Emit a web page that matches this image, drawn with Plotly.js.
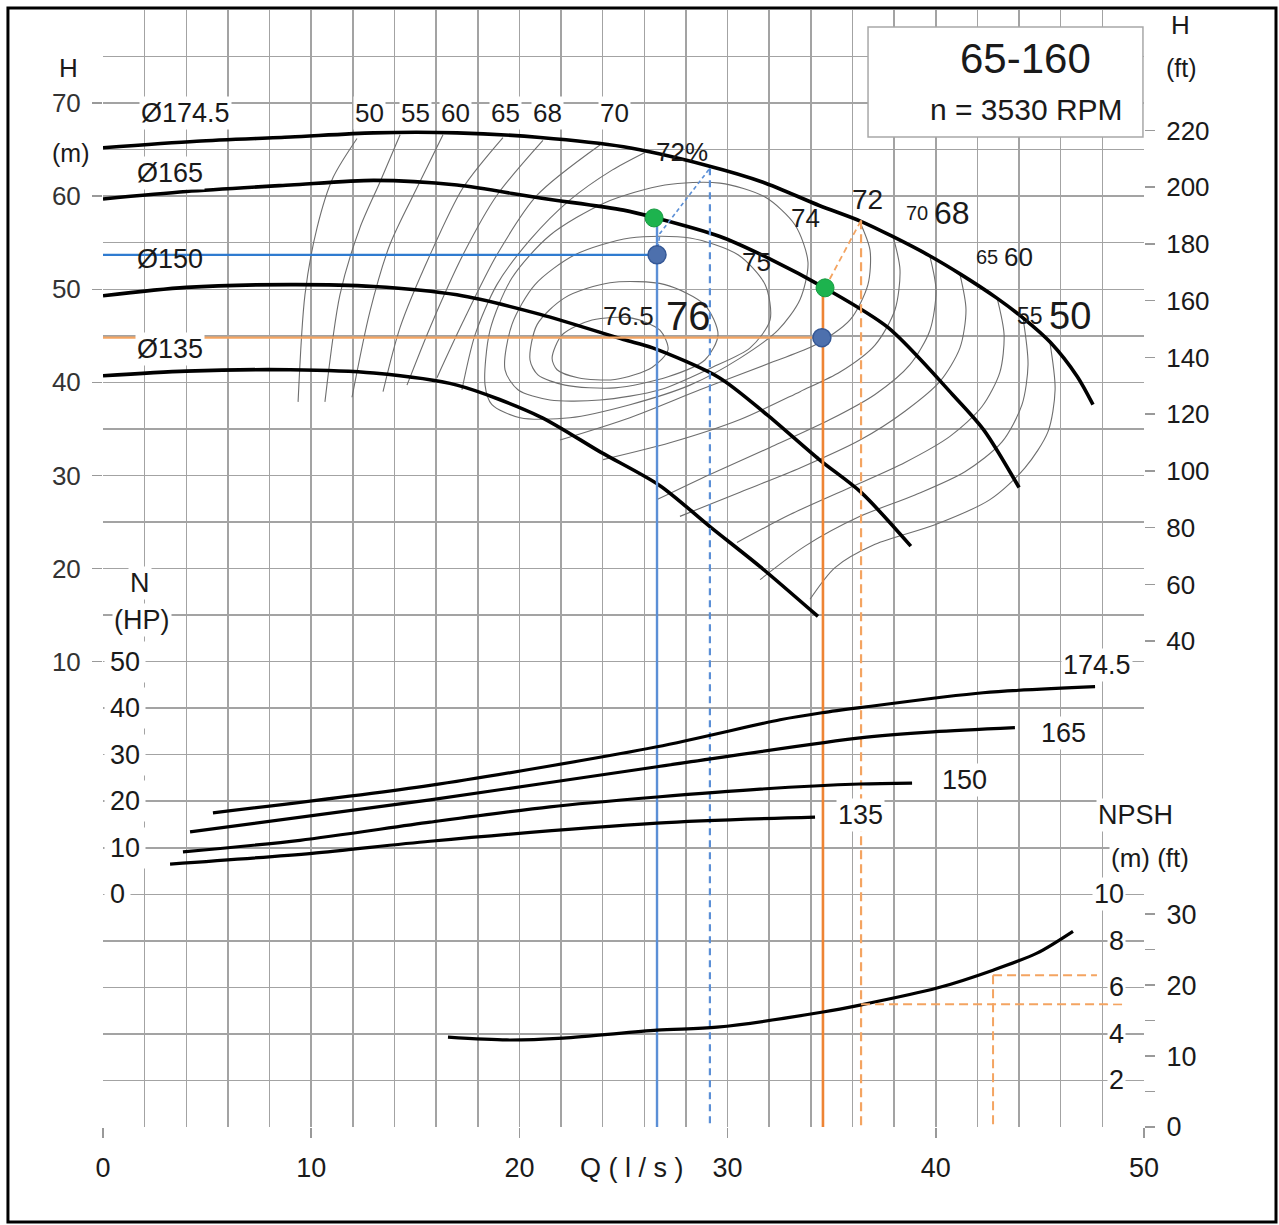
<!DOCTYPE html>
<html><head><meta charset="utf-8">
<script src="https://cdn.plot.ly/plotly-3.0.1.min.js"></script>
<style>html,body{margin:0;padding:0;background:#fff}#chart{width:1279px;height:1225px}</style>
</head><body><div id="chart"></div>
<script>
// ---------------- DATA ----------------
// axis ticks
const qTicks = [0,10,20,30,40,50];
const hTicksM = [10,20,30,40,50,60,70];
const hTicksFt = [40,60,80,100,120,140,160,180,200,220];
const nTicksHP = [0,10,20,30,40,50];
const npshTicksM = [2,4,6,8,10];
const npshTicksFt = [0,5,10,15,20,25,30];
const npshTickTextFt = ['0','','10','','20','','30'];

// head curves [Q l/s, H m]
const h1745 = [[0,65.2],[4.5,65.9],[9,66.35],[13,66.8],[17,66.8],[21,66.3],[25,65.3],[29,63.3],[31.7,61.5],[34.4,59.0],[36.4,57.3],[37.9,55.7],[39.7,53.6],[41.2,51.6],[42.9,49.1],[44.2,46.9],[45.5,44.3],[46.8,40.6],[47.55,37.6]];
const h165  = [[0,59.7],[4,60.5],[9,61.2],[13,61.7],[17,61.2],[21,59.8],[25,58.5],[26.5,57.7],[29.6,55.7],[32.0,53.3],[34.7,50.1],[37.7,45.9],[40.8,38.7],[42.3,34.9],[44.0,28.7]];
const h150  = [[0,49.3],[4,50.2],[9,50.5],[13,50.3],[17,49.4],[21,47.3],[25,44.6],[26.4,43.7],[29.6,40.5],[31.9,36.5],[34.4,31.7],[36.4,28.2],[38.8,22.4]];
const h135  = [[0,40.7],[4,41.2],[9,41.35],[13,41.0],[17,39.7],[21,36.3],[23.9,32.5],[26.75,28.9],[29.15,24.5],[31.56,20.2],[34.34,14.85]];

// power curves [Q, N hp]
const p1745 = [[5.28,17.5],[15.71,23.4],[26.61,31.7],[32.52,37.5],[34.53,39.0],[36.36,40.1],[42.27,43.3],[47.65,44.6]];
const p165  = [[4.18,13.4],[15.71,20.3],[26.61,27.4],[36.36,33.6],[39.87,34.9],[43.8,35.8]];
const p150  = [[3.84,9.1],[9.46,11.6],[15.71,15.5],[21.47,18.8],[26.61,20.9],[31.56,22.6],[36.36,23.7],[38.86,23.9]];
const p135  = [[3.22,6.5],[10.04,8.8],[15.71,11.4],[26.61,15.3],[34.2,16.6]];

// NPSH required [Q, m]
const npshReq = [[16.57,3.86],[19.4,3.74],[22.1,3.82],[26.61,4.16],[29.49,4.29],[34.58,4.94],[36.36,5.24],[40.06,5.97],[42.75,6.74],[44.86,7.47],[46.59,8.41]];

// iso-efficiency lines [Q, H]
const e50L = [[9.37,37.9],[9.70,49.4],[10.28,56.6],[11.05,62.0],[12.20,66.2]];
const e55L = [[10.66,37.9],[11.38,49.4],[12.34,56.6],[13.30,61.5],[14.27,66.6]];
const e60L = [[11.96,38.4],[12.82,47.6],[13.78,54.8],[15.08,60.9],[16.33,66.6]];
const e65L = [[13.45,39.0],[14.27,45.9],[15.71,53.7],[17.29,60.9],[19.21,66.3]];
const e68L = [[14.60,39.7],[15.71,45.9],[17.29,53.7],[18.92,60.1],[21.13,66.0]];
const e70L = [[16.04,40.5],[17.29,46.5],[18.92,53.7],[20.85,60.1],[23.87,65.5]];
const e72L = [[17.24,39.2],[17.87,45.1],[18.92,50.5],[20.51,55.3],[22.43,59.6],[24.45,62.8],[26.03,64.7]];
const e72R = [[36.36,57.2],[36.84,54.2],[36.74,50.5],[35.88,46.7],[34.20,44.0],[32.18,42.2],[28.67,39.2],[25.31,36.2],[21.95,33.8]];
const e70R = [[37.94,55.7],[38.28,52.1],[38.04,47.8],[37.08,44.0],[35.40,41.1],[33.48,39.0],[30.60,36.0],[27.23,33.5],[24.02,31.7]];
const e68R = [[39.72,53.5],[40.01,49.9],[39.72,45.6],[38.76,41.9],[37.08,38.7],[34.92,36.0],[32.04,33.0],[29.15,30.1],[26.61,27.4]];
const e65R = [[41.16,51.6],[41.45,47.8],[41.16,43.7],[40.20,40.1],[38.52,36.9],[36.36,33.8],[33.48,30.8],[30.60,28.2],[27.71,25.6]];
const e60R = [[42.94,49.1],[43.28,45.1],[43.08,41.1],[42.22,37.4],[40.68,34.2],[38.52,31.4],[35.88,28.7],[33.00,25.8],[30.45,22.8]];
const e55R = [[44.19,46.9],[44.43,41.9],[44.14,37.6],[43.18,33.6],[41.40,30.4],[39.00,27.9],[36.36,25.6],[33.72,22.4],[31.56,18.8]];
const e50R = [[45.48,44.3],[45.73,39.2],[45.39,34.7],[44.28,30.8],[42.60,27.4],[39.96,24.7],[37.08,22.6],[35.16,20.1],[33.96,16.7]];
const e74 = [[18.35,39.7],[18.59,45.6],[19.64,51.2],[21.47,55.8],[24.11,59.3],[26.99,61.2],[29.63,61.4],[31.80,59.9],[33.24,56.9],[33.86,52.9],[33.48,48.9],[32.42,45.6],[30.60,42.6],[28.19,39.7],[25.31,37.6],[22.43,36.2],[20.03,36.2],[18.68,37.6],[18.35,39.7]];
const e75 = [[19.31,41.35],[19.64,46.2],[20.75,50.5],[22.67,53.7],[25.31,55.5],[28.19,55.5],[30.50,53.7],[31.80,50.5],[32.04,46.7],[31.08,43.7],[29.25,41.6],[26.75,39.2],[23.87,38.1],[21.47,38.1],[19.93,39.2],[19.31,41.35]];
const e76 = [[20.51,42.4],[20.85,46.2],[22.19,49.1],[24.35,50.7],[26.99,50.5],[28.91,48.3],[29.54,45.1],[28.91,42.4],[27.14,40.6],[24.59,39.4],[22.19,39.7],[20.89,40.8],[20.51,42.4]];
const e765 = [[21.57,42.6],[22.05,45.1],[23.49,46.7],[25.41,46.9],[26.75,45.6],[27.14,43.5],[26.37,41.6],[24.59,40.3],[22.81,40.5],[21.81,41.35],[21.57,42.6]];

// efficiency labels
const effText = ['50','55','60','65','68','70','72%','74','75','76.5','76','72','70','68','65','60','55','50'];
const effQ    = [12.82,14.99,16.91,19.31,21.37,24.59,27.81,33.72,31.41,25.22,28.10,36.74,39.10,40.80,42.46,43.95,44.52,46.45];
const effH    = [68.93,68.93,68.93,68.93,68.93,68.93,64.74,57.66,52.94,47.15,47.15,59.59,58.20,58.20,53.48,53.48,47.15,47.15];
const effSize = [26,26,26,26,26,26,26,26,26,26,40,28,20,32,20,26,23,38];
const effBg   = [1,1,1,1,1,1,0,0,0,0,0,0,0,0,0,0,0,0];

// impeller labels
const impText = ['Ø174.5','Ø165','Ø150','Ø135'];
const impQ = [3.94,3.22,3.22,3.22];
const impH = [68.93,62.49,53.26,43.60];
const impBg = [1,1,0,1];
const powText = ['174.5','165','150','135'];
const powQ = [47.74,46.11,41.40,36.36];
const powN = [49.35,34.70,24.57,17.03];

// duty points
const dutyQ = [26.61,34.58];          // flow of the duty points
const dutyH = [53.7,44.8];            // required head (blue dots)
const dutyQcurve = [26.47,34.68];     // on Ø165 (green dots)
const dutyHcurve = [57.66,50.15];
const sysQtop = [29.15,36.41];        // dashed construction lines
const sysHtop = [63.0,57.4];
const blueSysMidQ = 26.75, blueSysMidH = 56.0;
const npshLineQ = [36.41,42.75];
const npshLineV = [5.28,6.52];
const npshLineEnd = [49.18,47.74];

// ---------------- BUILD ----------------
const FONT = "'Liberation Sans', Arial, sans-serif";
const traces = [];
function curve(pts, yax, color, width, dash, smooth) {
  traces.push({type:'scatter', mode:'lines', x:pts.map(p=>p[0]), y:pts.map(p=>p[1]), yaxis:yax,
    line:{color:color, width:width, dash:dash||'solid', shape:smooth?'spline':'linear', smoothing:0.8},
    hoverinfo:'skip', showlegend:false});
}
// efficiency lines
[e50L,e55L,e60L,e65L,e68L,e70L,e72L,e72R,e70R,e68R,e65R,e60R,e55R,e50R,e74,e75,e76,e765]
  .forEach(c => curve(c,'y','#6e6e6e',1.1,'solid',true));
// head curves
[h1745,h165,h150,h135].forEach(c => curve(c,'y','#000',3.6,'solid',true));
// power
[p1745,p165,p150,p135].forEach(c => curve(c,'y3','#000',3.2,'solid',true));
// npsh
curve(npshReq,'y4','#000',3.2,'solid',true);

const BLUE='#2f7bd0', BLUE2='#5b8fd6', OR='#ee8434', OR2='#f4a461';
// blue duty
curve([[0,dutyH[0]],[dutyQ[0],dutyH[0]]],'y',BLUE,2.2);
curve([[dutyQ[0],dutyHcurve[0]],[dutyQ[0],-40]],'y',BLUE2,2.4);
curve([[dutyQ[0],dutyH[0]],[blueSysMidQ,blueSysMidH],[sysQtop[0],sysHtop[0]]],'y',BLUE2,1.6,'4px,3px');
curve([[sysQtop[0],sysHtop[0]],[sysQtop[0],-40]],'y',BLUE2,2.2,'7px,5px');
// orange duty
curve([[0,dutyH[1]],[dutyQ[1],dutyH[1]]],'y',OR2,2.4);
curve([[dutyQ[1],dutyHcurve[1]],[dutyQ[1],-40]],'y',OR,2.6);
curve([[dutyQcurve[1],dutyHcurve[1]],[sysQtop[1],sysHtop[1]]],'y',OR2,1.8,'6px,4px');
curve([[sysQtop[1],sysHtop[1]],[sysQtop[1],-40]],'y',OR2,2.2,'9px,5px');
curve([[npshLineQ[0],npshLineV[0]],[npshLineEnd[0],npshLineV[0]]],'y4',OR2,2,'9px,5px');
curve([[npshLineQ[1],npshLineV[1]],[npshLineEnd[1],npshLineV[1]]],'y4',OR2,2,'9px,5px');
curve([[npshLineQ[1],npshLineV[1]],[npshLineQ[1],0]],'y4',OR2,2,'9px,5px');
// dots
traces.push({type:'scatter',mode:'markers',x:dutyQcurve,y:dutyHcurve,yaxis:'y',
  marker:{size:18,color:'#1db34e',line:{color:'#159a40',width:1}},hoverinfo:'skip'});
traces.push({type:'scatter',mode:'markers',x:[dutyQ[0],34.53],y:dutyH,yaxis:'y',
  marker:{size:18,color:'#4d70ad',line:{color:'#355896',width:1.5}},hoverinfo:'skip'});
// dummy traces so that the feet axes exist
traces.push({type:'scatter',mode:'lines',x:[null],y:[null],yaxis:'y2',hoverinfo:'skip'});
traces.push({type:'scatter',mode:'lines',x:[null],y:[null],yaxis:'y5',hoverinfo:'skip'});

// annotations
const ann = [];
function note(text,x,y,size,opt){
  opt=opt||{};
  ann.push(Object.assign({text:text,x:x,y:y,xref:'x',yref:'y',showarrow:false,
    xanchor:'center',yanchor:'middle',
    font:{family:FONT,size:size,color:'#1a1a1a'},
    bgcolor:opt.bg?'#ffffff':'rgba(0,0,0,0)',borderpad:1},opt.extra||{}));
}
effText.forEach((t,i)=>note(t,effQ[i],effH[i],effSize[i],{bg:effBg[i]}));
impText.forEach((t,i)=>note(t,impQ[i],impH[i],27,{bg:impBg[i]}));
powText.forEach((t,i)=>note(t,powQ[i],powN[i],27,{bg:1,extra:{yref:'y3'}}));
nTicksHP.forEach(v=>note(String(v),0,v,27,{bg:1,extra:{yref:'y3',xanchor:'left',borderpad:5,xshift:1}}));
npshTicksM.forEach(v=>note(String(v),49.13,v,27,{bg:1,extra:{yref:'y4',xanchor:'right'}}));
function pnote(text,x,y,size,bg){
  ann.push({text:text,x:x,y:y,xref:'paper',yref:'paper',showarrow:false,xanchor:'center',yanchor:'middle',
    font:{family:FONT,size:size,color:'#1a1a1a'},bgcolor:bg?'#ffffff':'rgba(0,0,0,0)'});
}
pnote('H',-0.0336,0.948,26);
pnote('(m)',-0.0317,0.872,25);
pnote('H',1.0346,0.9866,26);
pnote('(ft)',1.0365,0.948,25);
pnote('N',0.0355,0.487,27,true);
pnote('(HP)',0.0375,0.454,27,true);
pnote('NPSH',0.9914,0.2793,27,true);
pnote('(m) (ft)',1.0058,0.2408,26,true);
pnote('65-160',0.8857,0.957,42);
pnote('n = 3530 RPM',0.8867,0.9105,30);
ann.push({text:'Q ( l / s )',x:25.4,y:-0.0367,xref:'x',yref:'paper',showarrow:false,xanchor:'center',yanchor:'middle',
  font:{family:FONT,size:27,color:'#1a1a1a'}});

const GRID='#a3a3a3';
const layout = {
  width:1279, height:1225,
  margin:{l:103,r:135,t:10,b:98,pad:0},
  paper_bgcolor:'#fff', plot_bgcolor:'#fff', showlegend:false,
  font:{family:FONT,color:'#222'},
  xaxis:{range:[0,50], tickvals:qTicks, ticks:'outside', ticklen:10, tickcolor:'#999', tickwidth:1.5,
    showgrid:true, gridcolor:GRID, gridwidth:1.5, zeroline:false, showline:false,
    minor:{dtick:2, tick0:0, showgrid:true, gridcolor:GRID, gridwidth:1.5, ticks:''},
    tickfont:{size:27,color:'#1a1a1a'}, ticklabelstandoff:7},
  yaxis:{range:[-40,80], tickvals:hTicksM, ticks:'outside', ticklen:10, tickcolor:'#999', tickwidth:1.5,
    showgrid:true, gridcolor:GRID, gridwidth:1.5, zeroline:false, showline:false,
    minor:{tickmode:'linear', dtick:5, tick0:0, showgrid:true, gridcolor:GRID, gridwidth:1.5, ticks:''},
    tickfont:{size:26,color:'#333'}, ticklabelstandoff:6},
  yaxis2:{overlaying:'y', side:'right', range:[-131.234,262.467], tickvals:hTicksFt, ticks:'outside', ticklen:10,
    tickcolor:'#999', tickwidth:1.5, showgrid:false, zeroline:false, showline:false,
    tickfont:{size:26,color:'#1a1a1a'}, ticklabelstandoff:6},
  yaxis3:{overlaying:'y', range:[-50,190], visible:false},
  yaxis4:{overlaying:'y', range:[0,48], visible:false},
  yaxis5:{overlaying:'y', side:'right', range:[0,157.48], tickvals:npshTicksFt, ticktext:npshTickTextFt,
    ticks:'outside', ticklen:10, tickcolor:'#999', tickwidth:1.5, showgrid:false, zeroline:false, showline:false,
    tickfont:{size:27,color:'#1a1a1a'}, ticklabelstandoff:6},
  shapes:[
    {type:'rect',xref:'paper',yref:'paper',x0:0.7349,x1:0.999,y0:0.8863,y1:0.9848,
      fillcolor:'#fff',line:{color:'#a8a8a8',width:1.5},layer:'above'},
    {type:'rect',xref:'paper',yref:'paper',x0:-0.0913,x1:1.1268,y0:-0.085,y1:1.0018,
      line:{color:'#000',width:3},fillcolor:'rgba(0,0,0,0)',layer:'above'}
  ],
  annotations:ann
};
Plotly.newPlot('chart',traces,layout,{staticPlot:true,displayModeBar:false});
</script></body></html>
